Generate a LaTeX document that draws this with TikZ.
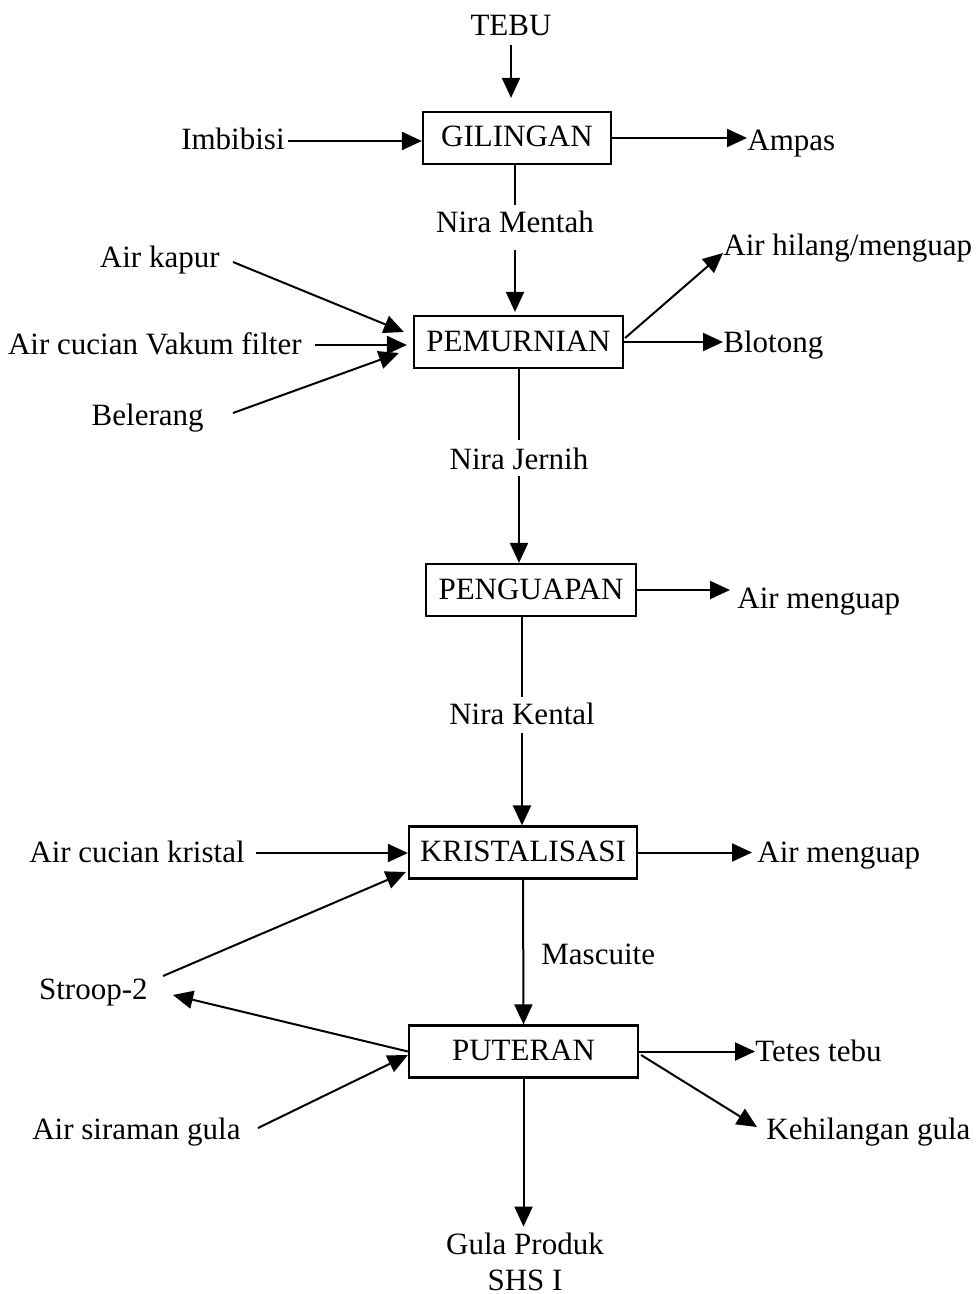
\documentclass[tikz,border=0pt]{standalone}
\usepackage{fontspec}
\setmainfont{Liberation Serif}
\usetikzlibrary{arrows.meta,positioning,calc}

\begin{document}
\begin{tikzpicture}[x=0.5pt,y=-0.5pt,
    font=\fontsize{15.5}{18}\selectfont,
    every node/.style={inner sep=0pt,text height=11.5pt,text depth=2.5pt},
    prosesbox/.style={draw,line width=1.1pt,minimum height=26pt},
    garis/.style={line width=1pt},
    alir/.style={garis,-{Triangle[length=10pt,width=9pt]}}]
  \useasboundingbox (0,0) rectangle (977,1294);
  % proses utama
  \node[prosesbox,minimum width=94pt] (gil) at (517,138) {GILINGAN};
  \node[prosesbox,minimum width=104.5pt] (pem) at (518.5,342) {PEMURNIAN};
  \node[prosesbox,minimum width=105pt] (peng) at (531,590) {PENGUAPAN};
  \node[prosesbox,minimum width=114pt] (kris) at (523,852.5) {KRISTALISASI};
  \node[prosesbox,minimum width=114.5pt] (put) at (523.5,1051.5) {PUTERAN};
  % masukan dan keluaran
  \node (tebu) at (511,27) {TEBU};
  \node[anchor=east] (imb) at (285,141) {Imbibisi};
  \node[anchor=west] (ampas) at (747,142) {Ampas};
  \node (nmentah) at (515,224) {Nira Mentah};
  \node[anchor=east] (akapur) at (220,259) {Air kapur};
  \node[anchor=east] (avakum) at (302,345) {Air cucian Vakum filter};
  \node[anchor=east] (belerang) at (204,416) {Belerang};
  \node[anchor=west] (ahilang) at (723,247) {Air hilang/menguap};
  \node[anchor=west] (blotong) at (723,343) {Blotong};
  \node (njernih) at (519,460) {Nira Jernih};
  \node[anchor=west] (amenguapA) at (737,599) {Air menguap};
  \node (nkental) at (522,715) {Nira Kental};
  \node[anchor=east] (akristal) at (245,853) {Air cucian kristal};
  \node[anchor=west] (amenguapB) at (757,853) {Air menguap};
  \node[anchor=west] (mascuite) at (541,955) {Mascuite};
  \node[anchor=east] (stroop) at (148,990) {Stroop-2};
  \node[anchor=east] (asiraman) at (241,1130) {Air siraman gula};
  \node[anchor=west] (tetes) at (755,1052) {Tetes tebu};
  \node[anchor=west] (hilang) at (766,1130) {Kehilangan gula};
  \node (gula) at (525,1245) {Gula Produk};
  \node (shs) at (525,1281) {SHS I};

  % GILINGAN
  \draw[alir,shorten <=2pt,shorten >=6.5pt] (tebu.south) -- (tebu.south |- gil.north);
  \draw[alir,shorten <=1.5pt] (imb.east) -- (imb.east -| gil.west);
  \draw[alir] (gil.east) -- (gil.east -| ampas.west);
  \draw[garis,shorten >=2.5pt] (nmentah.north |- gil.south) -- (nmentah.north);
  \draw[alir,shorten <=6pt,shorten >=1.5pt] (nmentah.south) -- (nmentah.south |- pem.north);
  % PEMURNIAN
  \draw[alir] ([shift={(6.5pt,-1.5pt)}]akapur.east) -- ([shift={(-4.5pt,5pt)}]pem.west);
  \draw[alir] ([xshift=6.5pt]avakum.east) -- ([shift={(-3pt,-1.5pt)}]pem.west);
  \draw[alir] ([shift={(14.5pt,1.5pt)}]belerang.east) -- ([shift={(-7pt,-5.5pt)}]pem.west);
  \draw[alir] ([shift={(0.5pt,2pt)}]pem.east) -- ([yshift=-3pt]ahilang.west);
  \draw[alir] (pem.east) -- (pem.east -| blotong.west);
  \draw[garis,shorten >=3pt] (njernih.north |- pem.south) -- (njernih.north);
  \draw[alir,shorten <=1pt] (njernih.south) -- (njernih.south |- peng.north);
  % PENGUAPAN
  \draw[alir,shorten >=3.5pt] (peng.east) -- (peng.east -| amenguapA.west);
  \draw[garis,shorten >=2pt] (nkental.north |- peng.south) -- (nkental.north);
  \draw[alir,shorten <=2pt] (nkental.south) -- (nkental.south |- kris.north);
  % KRISTALISASI
  \draw[alir,shorten <=5.5pt] (akristal.east) -- (akristal.east -| kris.west);
  \draw[alir,shorten >=2.5pt] (kris.east) -- (kris.east -| amenguapB.west);
  \draw[alir] (kris.south) -- (put.north);
  \draw[alir] ([shift={(7.5pt,7pt)}]stroop.east) -- ([shift={(-1pt,-9.75pt)}]kris.west);
  % PUTERAN
  \draw[alir] (put.west) -- ([shift={(12.5pt,-2.5pt)}]stroop.east);
  \draw[alir] ([shift={(8.5pt,1pt)}]asiraman.east) -- ([yshift=-1.75pt]put.west);
  \draw[alir] (put.east) -- (put.east -| tetes.west);
  \draw[alir] ([shift={(1pt,-1.75pt)}]put.east) -- ([shift={(-4.5pt,1.5pt)}]hilang.west);
  \draw[alir,shorten >=2pt] (put.south) -- (put.south |- gula.north);
\end{tikzpicture}
\end{document}
